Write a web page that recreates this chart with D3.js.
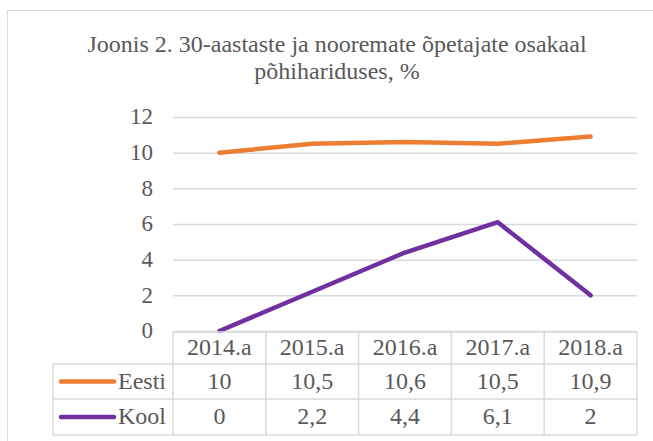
<!DOCTYPE html>
<html>
<head>
<meta charset="utf-8">
<script src="https://cdn.jsdelivr.net/npm/d3@7"></script>
<style>
  body { margin: 0; background: #fff; }
  svg text { font-family: 'Liberation Serif', serif; }
</style>
</head>
<body>
<div id="chart"></div>
<script>
// andmed
var kategooriad = ['2014.a', '2015.a', '2016.a', '2017.a', '2018.a'];
var eesti = [10, 10.5, 10.6, 10.5, 10.9];
var kool = [0, 2.2, 4.4, 6.1, 2];
var yTicks = [0, 2, 4, 6, 8, 10, 12];
var seeriad = [
    { nimi: 'Eesti', vaartused: eesti, varv: '#ED7D31' },
    { nimi: 'Kool', vaartused: kool, varv: '#7030A0' }
];
var pealkiri = ['Joonis 2. 30-aastaste ja nooremate õpetajate osakaal', 'põhihariduses, %'];

var laius = 653, korgus = 441;
var tekstiVarv = '#595959';
var joonVarv = '#d9d9d9';
var font = 'Liberation Serif';

var svg = d3.select('#chart').append('svg')
    .attr('width', laius)
    .attr('height', korgus);

// raam
svg.append('rect')
    .attr('x', 7.5).attr('y', 10.5)
    .attr('width', 700).attr('height', 500)
    .attr('fill', '#fff')
    .attr('stroke', joonVarv);

// pealkiri
svg.selectAll('.pealkiri')
    .data(pealkiri)
    .enter().append('text')
    .attr('class', 'pealkiri')
    .attr('x', 337)
    .attr('y', function (d, i) { return 52 + i * 27; })
    .attr('text-anchor', 'middle')
    .attr('font-size', 24)
    .attr('fill', tekstiVarv)
    .text(function (d) { return d; });

// skaalad
var scale_x = d3.scaleBand()
    .domain(kategooriad)
    .range([173, 637])
    .padding(0);

var scale_y = d3.scaleLinear()
    .domain([0, 12])
    .range([331, 117]);

function xc(i) { return scale_x(kategooriad[i]) + scale_x.bandwidth() / 2; }
function koma(v) { return String(v).replace('.', ','); }

// ruudustik
var yAxis = svg.append('g')
    .attr('transform', 'translate(173,0)')
    .call(d3.axisLeft(scale_y).tickValues(yTicks).tickSize(-(637 - 173)).tickPadding(20));
yAxis.select('.domain').remove();
yAxis.attr('font-family', font);
yAxis.selectAll('.tick line').attr('stroke', joonVarv).attr('stroke-width', 1.5);
yAxis.selectAll('.tick text')
    .attr('font-size', 23)
    .attr('fill', tekstiVarv)
    .attr('dy', '0.3em');

// jooned
var line = d3.line()
    .x(function (d, i) { return xc(i); })
    .y(function (d) { return scale_y(d); });

svg.selectAll('.seeria')
    .data(seeriad)
    .enter().append('path')
    .attr('class', 'seeria')
    .attr('d', function (d) { return line(d.vaartused); })
    .attr('fill', 'none')
    .attr('stroke', function (d) { return d.varv; })
    .attr('stroke-width', 4.5)
    .attr('stroke-linejoin', 'round')
    .attr('stroke-linecap', 'round');

// andmetabel
var tabelTop = 332, reaK = [32, 35, 36];
var legendX = 53;
var t = svg.append('g').attr('class', 'tabel');

var ridaY = [tabelTop, tabelTop + reaK[0], tabelTop + reaK[0] + reaK[1], tabelTop + reaK[0] + reaK[1] + reaK[2]];
t.append('line').attr('x1', 173).attr('x2', 637).attr('y1', ridaY[0]).attr('y2', ridaY[0]);
t.append('line').attr('x1', legendX).attr('x2', 637).attr('y1', ridaY[1]).attr('y2', ridaY[1]);
t.append('line').attr('x1', legendX).attr('x2', 637).attr('y1', ridaY[2]).attr('y2', ridaY[2]);
t.append('line').attr('x1', legendX).attr('x2', 637).attr('y1', ridaY[3]).attr('y2', ridaY[3]);
t.append('line').attr('x1', legendX).attr('x2', legendX).attr('y1', ridaY[1]).attr('y2', ridaY[3]);
kategooriad.forEach(function (k) {
    t.append('line').attr('x1', scale_x(k)).attr('x2', scale_x(k)).attr('y1', ridaY[0]).attr('y2', ridaY[3]);
});
t.append('line').attr('x1', 637).attr('x2', 637).attr('y1', ridaY[0]).attr('y2', ridaY[3]);
t.selectAll('line').attr('stroke', joonVarv).attr('stroke-width', 1.5);

// päis
t.selectAll('.pais')
    .data(kategooriad)
    .enter().append('text')
    .attr('class', 'pais')
    .attr('x', function (d, i) { return xc(i); })
    .attr('y', (ridaY[0] + ridaY[1]) / 2)
    .attr('dy', '0.28em')
    .attr('text-anchor', 'middle')
    .attr('font-size', 24)
    .attr('fill', tekstiVarv)
    .text(function (d) { return d; });

seeriad.forEach(function (s, r) {
    var cy = (ridaY[r + 1] + ridaY[r + 2]) / 2;
    t.append('line')
        .attr('x1', 61).attr('x2', 114)
        .attr('y1', cy).attr('y2', cy)
        .attr('stroke', s.varv)
        .attr('stroke-width', 4.5)
        .attr('stroke-linecap', 'round');
    t.append('text')
        .attr('x', 166)
        .attr('y', cy)
        .attr('dy', '0.3em')
        .attr('text-anchor', 'end')
        .attr('font-size', 24)
        .attr('fill', tekstiVarv)
        .text(s.nimi);
    s.vaartused.forEach(function (v, i) {
        t.append('text')
            .attr('x', xc(i))
            .attr('y', cy)
            .attr('dy', '0.3em')
            .attr('text-anchor', 'middle')
            .attr('font-size', 24)
            .attr('fill', tekstiVarv)
            .text(koma(v));
    });
});

// kõik tekstid serif-kirjas
svg.selectAll('text').attr('font-family', font);
</script>
</body>
</html>
